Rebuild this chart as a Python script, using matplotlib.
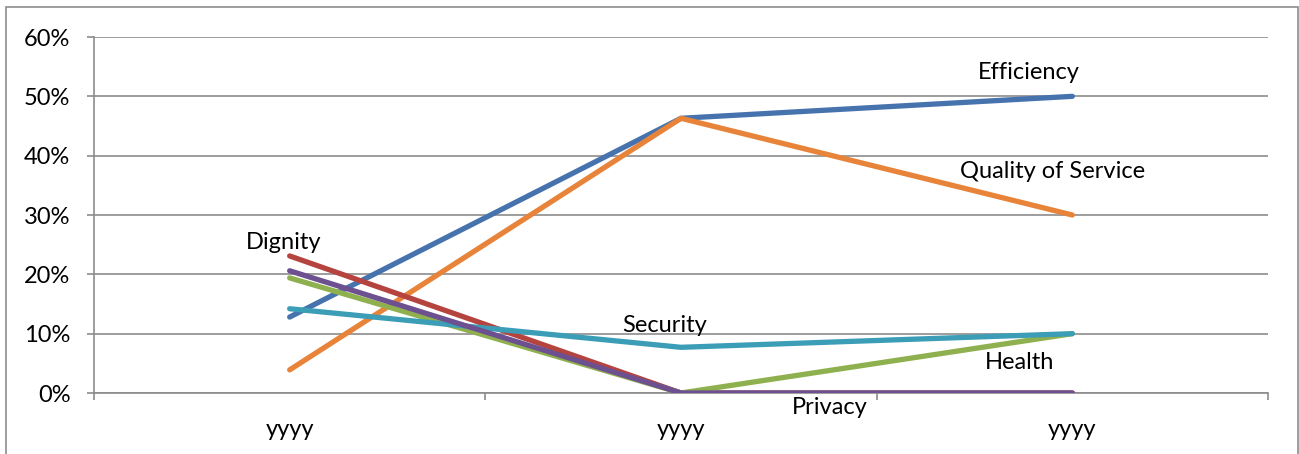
import numpy as np
import matplotlib.pyplot as plt
from matplotlib.patches import Rectangle
from matplotlib.ticker import PercentFormatter, FixedLocator

plt.rcParams['font.family'] = ['Lato', 'DejaVu Sans']

categories = ['yyyy', 'yyyy', 'yyyy']

efficiency = [12.8, 46.3, 50.0]
quality = [3.9, 46.3, 30.0]
dignity = [23.1, 0.0, 0.0]
health = [19.4, 0.0, 10.0]
security = [14.2, 7.7, 10.0]
privacy = [20.6, 0.0, 0.0]

series = [
    ('Efficiency', efficiency, '#4673ad'),
    ('Quality of Service', quality, '#e8833a'),
    ('Dignity', dignity, '#b5443f'),
    ('Health', health, '#8fb04e'),
    ('Security', security, '#3b9db6'),
    ('Privacy', privacy, '#6d5090'),
]

# label positions (category index, percent)
labels = {
    'Efficiency': (1.89, 54.1),
    'Quality of Service': (1.95, 37.3),
    'Dignity': (-0.015, 25.3),
    'Security': (0.958, 11.3),
    'Health': (1.864, 5.2),
    'Privacy': (1.38, -2.4),
}

FS = 17

W, H = 1299, 454
fig = plt.figure(figsize=(W / 100, H / 100), dpi=100)
ax = fig.add_axes([94 / W, (H - 393) / H, (1268 - 94) / W, (393 - 37) / H])

x = np.arange(len(categories))
for name, vals, col in series:
    ax.plot(x, vals, color=col, lw=3.8, solid_capstyle='round', zorder=3)

for name, (lx, ly) in labels.items():
    ax.text(lx, ly, name, ha='center', va='center', fontsize=FS, color='black',
            zorder=4, clip_on=False)

ax.set_xlim(-0.5, 2.5)
ax.set_ylim(0, 60)
ax.yaxis.set_major_locator(FixedLocator(np.arange(0, 61, 10)))
ax.yaxis.set_major_formatter(PercentFormatter(decimals=0))
ax.grid(axis='y', color='#8c8c8c', lw=1.2, zorder=1)

ax.set_xticks(x)
ax.set_xticklabels(categories)
ax.set_xticks([-0.5, 0.5, 1.5, 2.5], minor=True)
ax.tick_params(axis='x', which='major', length=0, pad=19, labelsize=FS)
ax.tick_params(axis='x', which='minor', length=5, color='#8c8c8c', width=1.2)
ax.tick_params(axis='y', length=5, color='#8c8c8c', width=1.2, pad=12, labelsize=FS)

for side in ['top', 'right']:
    ax.spines[side].set_visible(False)
for side in ['left', 'bottom']:
    ax.spines[side].set_color('#8c8c8c')
    ax.spines[side].set_linewidth(1.2)

# outer chart border
fig.patches.append(Rectangle((6 / W, -0.05), (1298 - 6) / W, (H - 7) / H + 0.05,
                             transform=fig.transFigure, fill=False,
                             edgecolor='#8c8c8c', lw=1.2))

fig.savefig('out.png', dpi=100)
